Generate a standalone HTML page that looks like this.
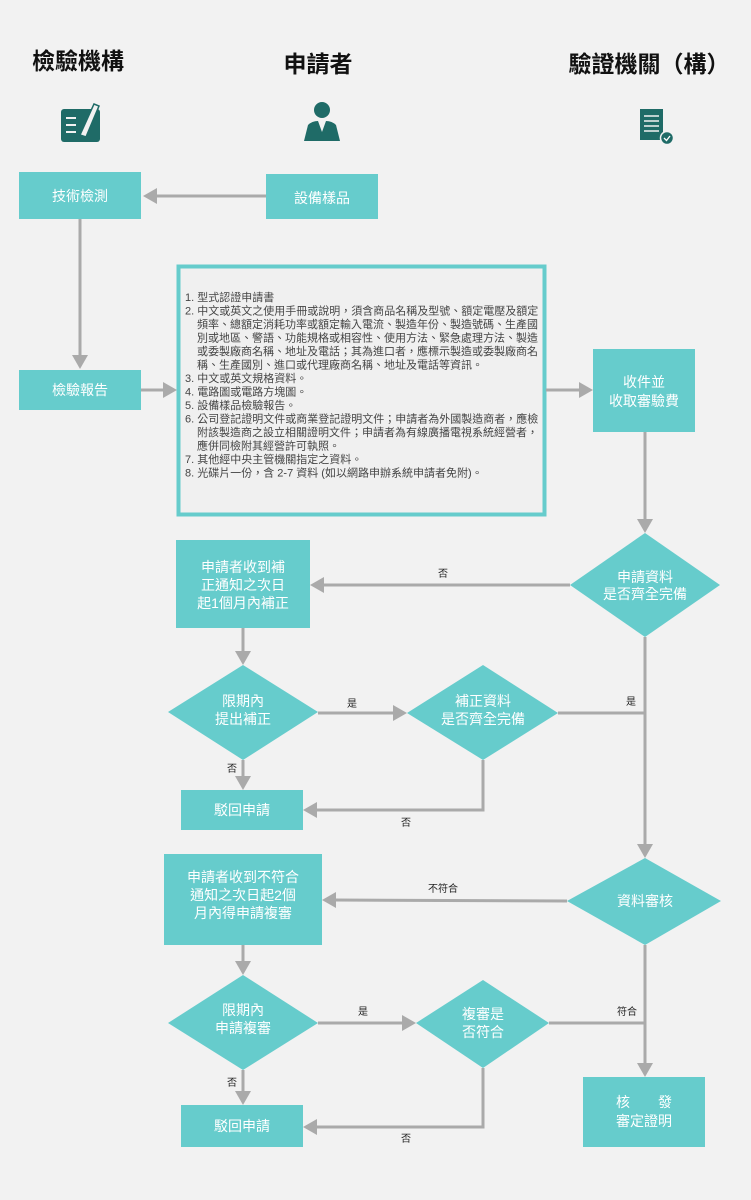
<!DOCTYPE html>
<html><head><meta charset="utf-8"><style>
html,body{margin:0;padding:0;background:#f2f2f2;}
svg{display:block;font-family:"Liberation Sans","Noto Sans CJK TC",sans-serif;}
.b{fill:#66cccc;}
.t{fill:#fff;font-size:14px;text-anchor:middle;}
.l{stroke:#aaaaaa;stroke-width:3;fill:none;}
.a{fill:#aaaaaa;}
.s{font-size:10px;fill:#222;text-anchor:middle;}
.li{font-size:11px;fill:#444;}
.h{font-size:23px;font-weight:bold;fill:#111;text-anchor:middle;}
</style></head><body>
<svg width="751" height="1200" viewBox="0 0 751 1200" xmlns="http://www.w3.org/2000/svg">
<rect width="751" height="1200" fill="#f2f2f2"/>
<text class="h" x="78" y="69">檢驗機構</text>
<text class="h" x="318" y="72">申請者</text>
<text class="h" x="649" y="72">驗證機關（構）</text>
<rect x="61" y="109" width="39" height="33" rx="3" fill="#1f6b67"/>
<g stroke="#f2f2f2" stroke-width="2"><line x1="66" y1="118" x2="76" y2="118"/><line x1="66" y1="125" x2="76" y2="125"/><line x1="66" y1="132" x2="76" y2="132"/></g>
<path d="M80 135 L94 104 L99 106 L86 137 Z" fill="#f2f2f2" stroke="#1f6b67" stroke-width="1.5"/>
<circle cx="322" cy="110" r="8" fill="#1f6b67"/>
<path d="M304 141 L308 125 Q312 121 318 121 L322 132 L326 121 Q332 121 336 125 L340 141 Z" fill="#1f6b67"/>
<rect x="640" y="109" width="23" height="31" fill="#1f6b67"/>
<g stroke="#f2f2f2" stroke-width="1.5"><line x1="644" y1="116" x2="659" y2="116"/><line x1="644" y1="121" x2="659" y2="121"/><line x1="644" y1="126" x2="659" y2="126"/><line x1="644" y1="131" x2="659" y2="131"/></g>
<circle cx="667" cy="138" r="6.5" fill="#1f6b67" stroke="#f2f2f2" stroke-width="1.5"/>
<path d="M664 138 L666.5 140.5 L670 136" stroke="#fff" stroke-width="1.3" fill="none"/>

<rect class="b" x="19" y="172" width="122" height="47"/><text class="t" x="80" y="201">技術檢測</text>
<rect class="b" x="266" y="174" width="112" height="45"/><text class="t" x="322" y="203">設備樣品</text>
<line class="l" x1="266" y1="196" x2="155" y2="196"/><path class="a" d="M143 196 L157 188 L157 204 Z"/>
<line class="l" x1="80" y1="219" x2="80" y2="356"/><path class="a" d="M80 369 L72 355 L88 355 Z"/>
<rect class="b" x="19" y="370" width="122" height="40"/><text class="t" x="80" y="395">檢驗報告</text>
<line class="l" x1="141" y1="390" x2="165" y2="390"/><path class="a" d="M177 390 L163 382 L163 398 Z"/>
<rect x="178.5" y="266.5" width="366" height="248" fill="#f0f0f0" stroke="#66cccc" stroke-width="4"/>
<g class="li">
<text x="185" y="301">1. 型式認證申請書</text>
<text x="185" y="314.5">2. 中文或英文之使用手冊或說明，須含商品名稱及型號、額定電壓及額定</text>
<text x="197" y="328">頻率、總額定消耗功率或額定輸入電流、製造年份、製造號碼、生產國</text>
<text x="197" y="341.5">別或地區、警語、功能規格或相容性、使用方法、緊急處理方法、製造</text>
<text x="197" y="355">或委製廠商名稱、地址及電話；其為進口者，應標示製造或委製廠商名</text>
<text x="197" y="368.5">稱、生產國別、進口或代理廠商名稱、地址及電話等資訊。</text>
<text x="185" y="382">3. 中文或英文規格資料。</text>
<text x="185" y="395.5">4. 電路圖或電路方塊圖。</text>
<text x="185" y="409">5. 設備樣品檢驗報告。</text>
<text x="185" y="422.5">6. 公司登記證明文件或商業登記證明文件；申請者為外國製造商者，應檢</text>
<text x="197" y="436">附該製造商之設立相關證明文件；申請者為有線廣播電視系統經營者，</text>
<text x="197" y="449.5">應併同檢附其經營許可執照。</text>
<text x="185" y="463">7. 其他經中央主管機關指定之資料。</text>
<text x="185" y="476.5">8. 光碟片一份，含 2-7 資料 (如以網路申辦系統申請者免附)。</text>
</g>
<line class="l" x1="546" y1="390" x2="581" y2="390"/><path class="a" d="M593 390 L579 382 L579 398 Z"/>
<rect class="b" x="593" y="349" width="102" height="83"/><text class="t" x="644" y="387">收件並</text><text class="t" x="644" y="406">收取審驗費</text>
<line class="l" x1="645" y1="432" x2="645" y2="520"/><path class="a" d="M645 533 L637 519 L653 519 Z"/>
<path class="b" d="M645 533 L720 585 L645 637 L570 585 Z"/><text class="t" x="645" y="582">申請資料</text><text class="t" x="645" y="599">是否齊全完備</text>
<line class="l" x1="570" y1="585" x2="322" y2="585"/><path class="a" d="M310 585 L324 577 L324 593 Z"/><text class="s" x="443" y="577">否</text>
<rect class="b" x="176" y="540" width="134" height="88"/>
<text class="t" x="243" y="572">申請者收到補</text><text class="t" x="243" y="590">正通知之次日</text><text class="t" x="243" y="608">起1個月內補正</text>
<line class="l" x1="243" y1="628" x2="243" y2="652"/><path class="a" d="M243 665 L235 651 L251 651 Z"/>
<path class="b" d="M243 665 L318 712 L243 760 L168 712 Z"/><text class="t" x="243" y="706">限期內</text><text class="t" x="243" y="724">提出補正</text>
<line class="l" x1="318" y1="713" x2="395" y2="713"/><path class="a" d="M407 713 L393 705 L393 721 Z"/><text class="s" x="352" y="707">是</text>
<path class="b" d="M483 665 L558 713 L483 760 L407 713 Z"/><text class="t" x="483" y="706">補正資料</text><text class="t" x="483" y="724">是否齊全完備</text>
<polyline class="l" points="558,713 645,713"/><text class="s" x="631" y="705">是</text>
<line class="l" x1="645" y1="637" x2="645" y2="845"/><path class="a" d="M645 858 L637 844 L653 844 Z"/>
<line class="l" x1="243" y1="760" x2="243" y2="777"/><path class="a" d="M243 790 L235 776 L251 776 Z"/><text class="s" x="232" y="772">否</text>
<rect class="b" x="181" y="790" width="122" height="40"/><text class="t" x="242" y="815">駁回申請</text>
<polyline class="l" points="483,760 483,810 315,810"/><path class="a" d="M303 810 L317 802 L317 818 Z"/><text class="s" x="406" y="826">否</text>

<path class="b" d="M645 858 L721 901 L645 945 L567 901 Z"/><text class="t" x="645" y="906">資料審核</text>
<line class="l" x1="567" y1="901" x2="334" y2="900"/><path class="a" d="M322 900 L336 892 L336 908 Z"/><text class="s" x="443" y="892">不符合</text>
<rect class="b" x="164" y="854" width="158" height="91"/>
<text class="t" x="243" y="882">申請者收到不符合</text><text class="t" x="243" y="900">通知之次日起2個</text><text class="t" x="243" y="918">月內得申請複審</text>
<line class="l" x1="243" y1="945" x2="243" y2="962"/><path class="a" d="M243 975 L235 961 L251 961 Z"/>
<path class="b" d="M243 975 L318 1023 L243 1070 L168 1023 Z"/><text class="t" x="243" y="1015">限期內</text><text class="t" x="243" y="1033">申請複審</text>
<line class="l" x1="318" y1="1023" x2="404" y2="1023"/><path class="a" d="M416 1023 L402 1015 L402 1031 Z"/><text class="s" x="363" y="1015">是</text>
<path class="b" d="M483 980 L549 1023 L483 1068 L416 1023 Z"/><text class="t" x="483" y="1019">複審是</text><text class="t" x="483" y="1037">否符合</text>
<polyline class="l" points="549,1023 645,1023"/><text class="s" x="627" y="1015">符合</text>
<line class="l" x1="645" y1="945" x2="645" y2="1064"/><path class="a" d="M645 1077 L637 1063 L653 1063 Z"/>
<rect class="b" x="583" y="1077" width="122" height="70"/><text class="t" x="644" y="1107">核　　發</text><text class="t" x="644" y="1126">審定證明</text>
<line class="l" x1="243" y1="1070" x2="243" y2="1092"/><path class="a" d="M243 1105 L235 1091 L251 1091 Z"/><text class="s" x="232" y="1086">否</text>
<rect class="b" x="181" y="1105" width="122" height="42"/><text class="t" x="242" y="1131">駁回申請</text>
<polyline class="l" points="483,1068 483,1127 315,1127"/><path class="a" d="M303 1127 L317 1119 L317 1135 Z"/><text class="s" x="406" y="1142">否</text>
</svg>
</body></html>
